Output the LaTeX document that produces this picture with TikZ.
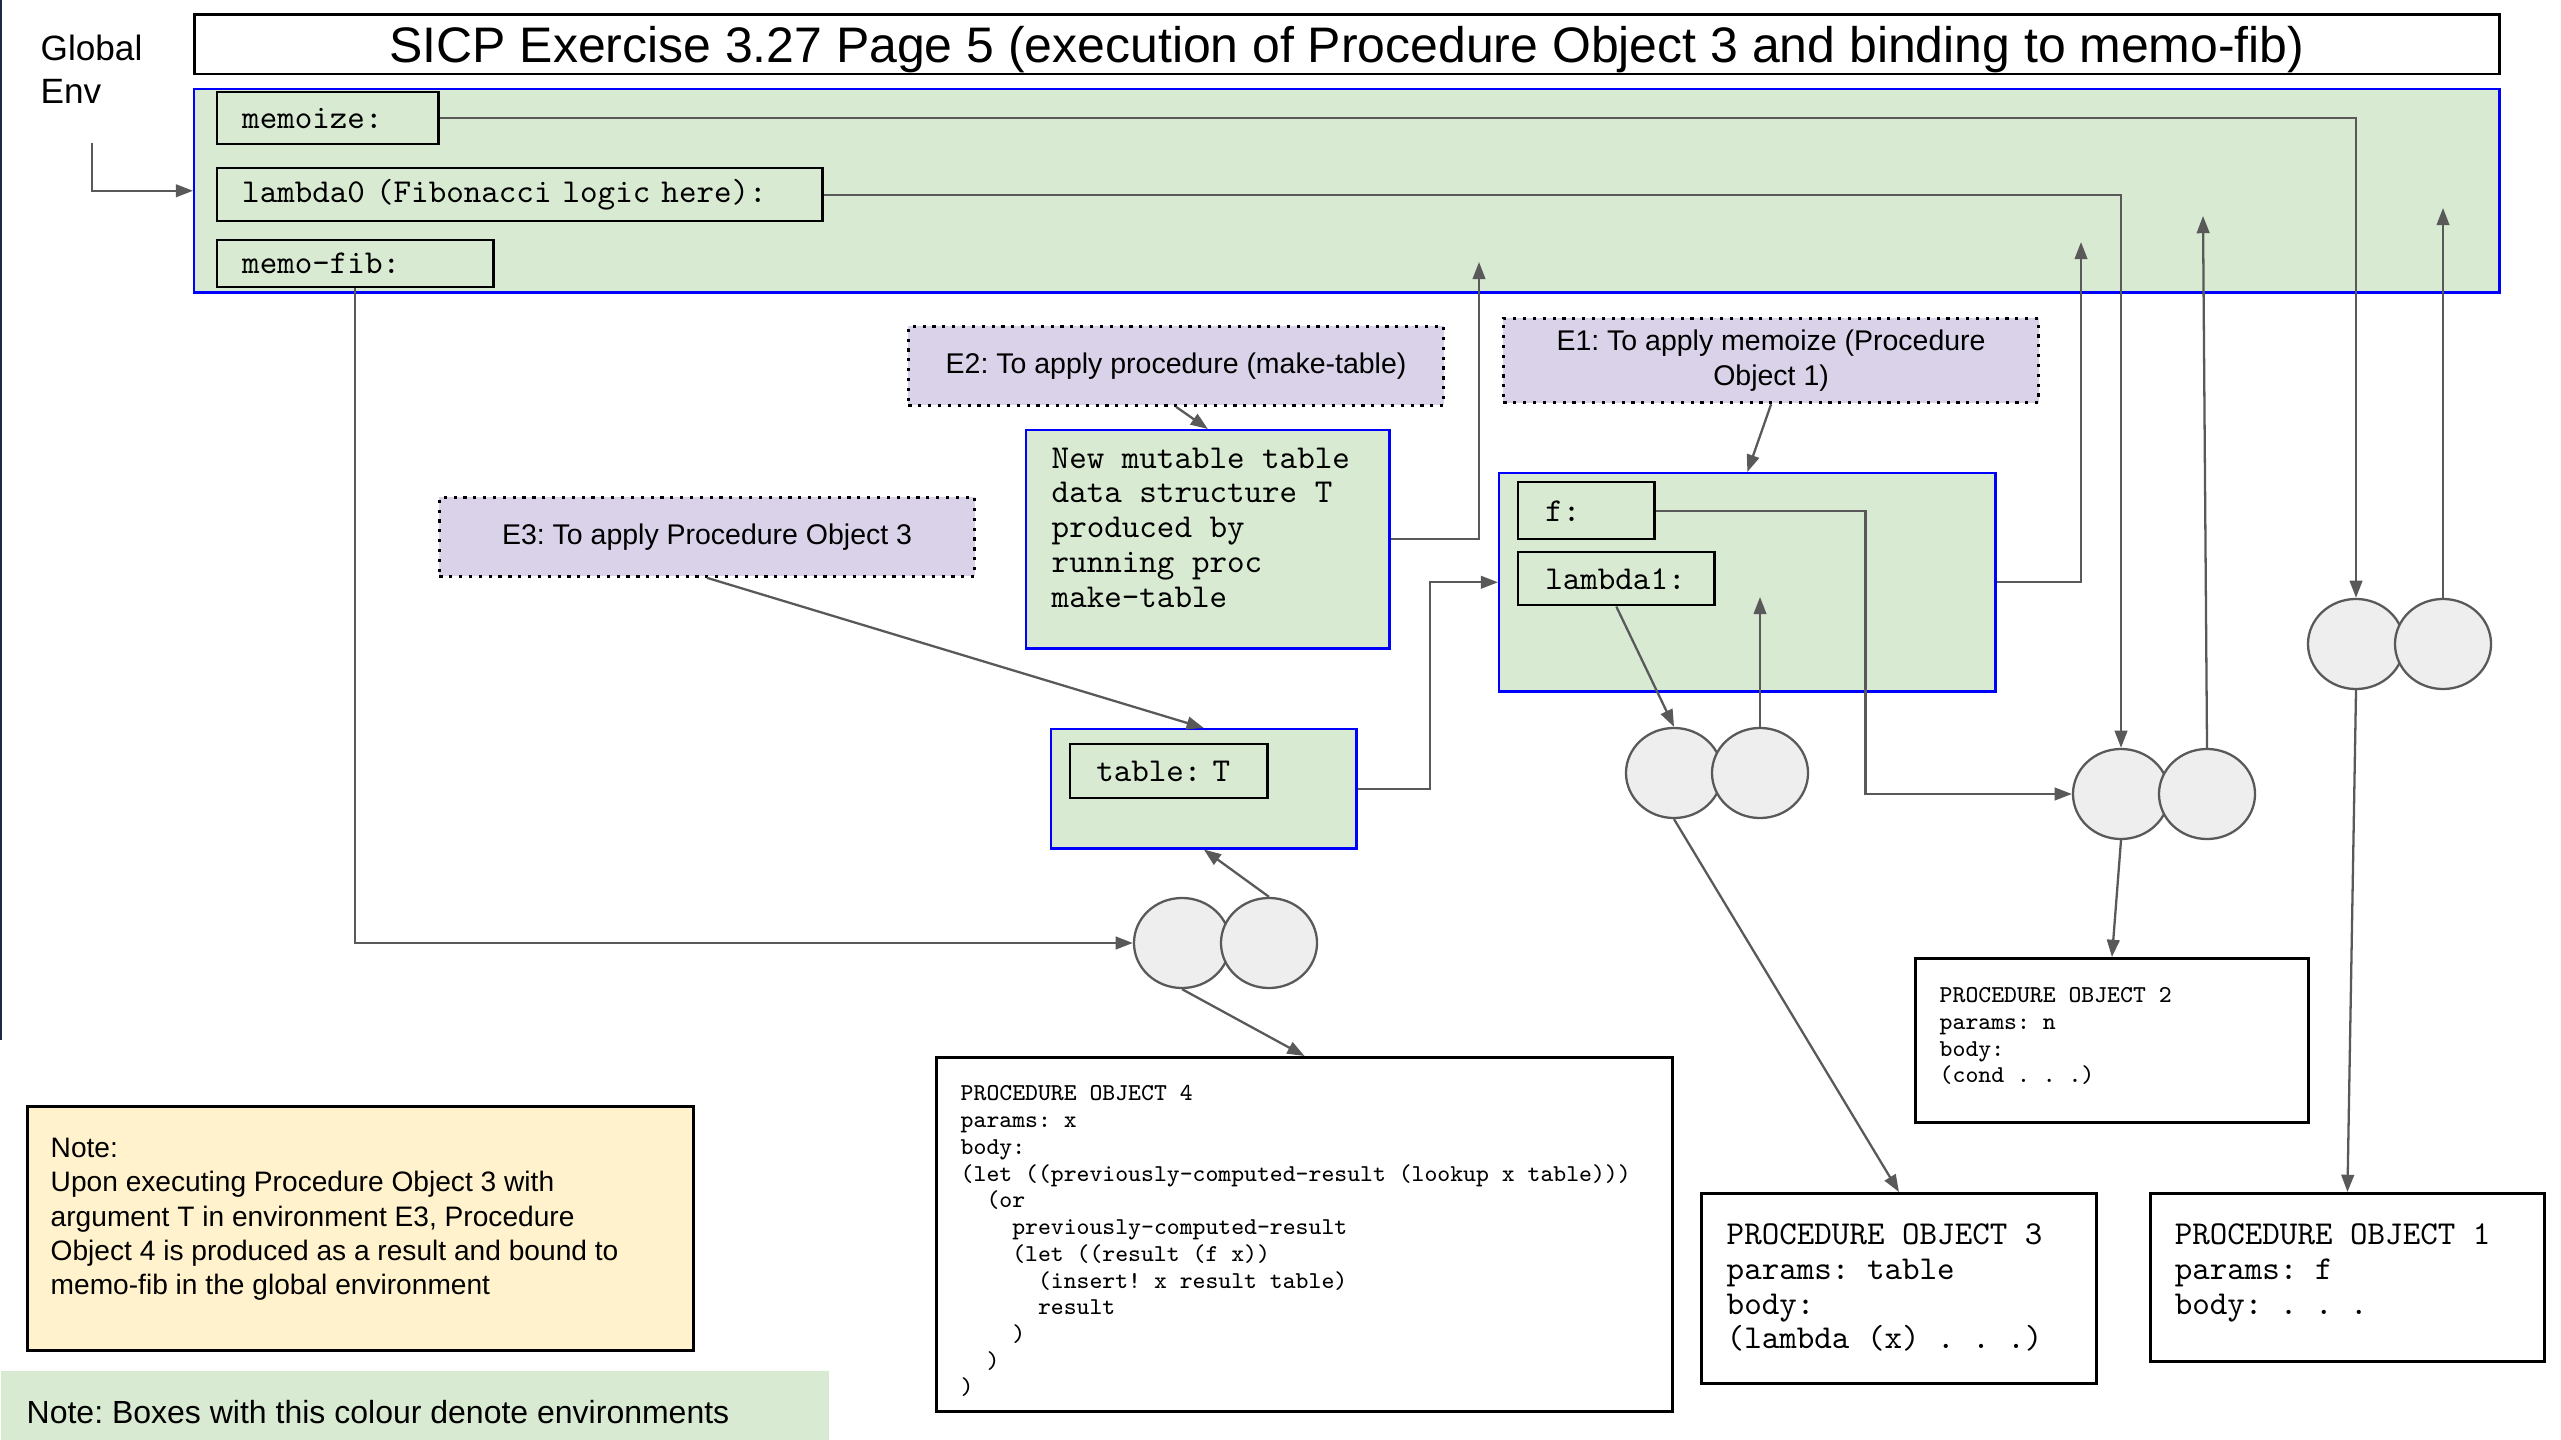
\documentclass[tikz,border=0pt]{standalone}
\usepackage{fontspec}
\setmainfont{Liberation Sans}
\usetikzlibrary{shapes.geometric, arrows.meta, positioning}
\usepackage{xcolor}
\definecolor{envgreen}{RGB}{217, 234, 211}
\definecolor{envblue}{RGB}{0, 0, 255}
\definecolor{labelpurple}{RGB}{217, 210, 233}
\definecolor{noteyellow}{RGB}{255, 242, 204}
\definecolor{cellgray}{RGB}{238, 238, 238}
\definecolor{linegray}{RGB}{89, 89, 89}
\definecolor{edgenavy}{RGB}{28, 42, 69}

\newcommand\titlefont{\fontsize{14.2}{16}\selectfont}
\newcommand\labelfont{\fontsize{8.1}{9.8}\selectfont}
\newcommand\monobig{\fontsize{9.5}{9.9}\selectfont\ttfamily}
\newcommand\monosmall{\fontsize{6.9}{7.6}\selectfont\ttfamily}
\newcommand\codeind[1]{\hspace*{#1\fontcharwd\font`x}}
\frenchspacing

\begin{document}
\begin{tikzpicture}[
    x=0.01cm, y=-0.01cm,
    >={Triangle[length=4.9pt, width=3.6pt]},
    % Box styles
    titlebox/.style={rectangle, draw=black, line width=0.75pt, minimum width=23.04cm, minimum height=0.58cm, anchor=north west, text depth=0pt, font=\titlefont},
    envbox/.style={rectangle, draw=envblue, line width=0.7pt, fill=envgreen, anchor=north west, inner sep=0pt},
    binding/.style={rectangle, draw=black, line width=0.7pt, fill=envgreen, anchor=north west, inner xsep=0.25cm, inner ysep=0pt, align=left, font=\monobig},
    envlabel/.style={rectangle, draw=black, line width=0.8pt, dash pattern=on 0.9pt off 1.9pt, fill=labelpurple, anchor=north west, minimum width=5.35cm, align=center, font=\labelfont},
    procbox/.style={rectangle, draw=black, line width=0.75pt, fill=white, anchor=north west, inner sep=0pt},
    codetext/.style={anchor=north west, inner sep=0pt, align=left},
    conscell/.style={ellipse, draw=linegray, line width=0.65pt, fill=cellgray, minimum width=0.96cm, minimum height=0.9cm, inner sep=0pt},
    % Arrow styles
    arrow/.style={->, draw=linegray, line width=0.65pt},
]
\useasboundingbox (0,0) rectangle (2561,1440);

% Page edge
\draw[edgenavy, line width=0.5pt] (1,0) -- (1,1040);

% Title and global environment
\node[titlebox] (title) at (193,13) {SICP Exercise 3.27 Page 5 (execution of Procedure Object 3 and binding to memo-fib)};
\node[codetext, font=\fontsize{10}{12.2}\selectfont] (globallabel) at (40,34) {Global\\Env};
\node[envbox, minimum width=23.04cm, minimum height=2.03cm] (globalenv) at (193,88) {};
\node[binding, text width=1.71cm, minimum height=0.52cm] (memoize) at (216,91) {memoize:};
\node[binding, text width=5.55cm, minimum height=0.53cm] (lambdazero) at (216,167) {lambda0 (Fibonacci logic here):};
\node[binding, text width=2.26cm, minimum height=0.47cm] (memofib) at (216,239) {memo-fib:};

% Environment labels
\node[envlabel, minimum height=0.79cm] (etwo) at (907,325) {E2: To apply procedure (make-table)};
\node[envlabel, minimum height=0.79cm] (ethree) at (438,496) {E3: To apply Procedure Object 3};
\node[envlabel, minimum height=0.77cm] (eone) at (1502,317) {E1: To apply memoize (Procedure\\Object 1)};

% Table made by make-table
\node[envbox, minimum width=3.63cm, minimum height=2.18cm] (newtable) at (1025,429) {};
\node[codetext, font=\monobig, below right=0.18cm and 0.26cm of newtable.north west] (newtabletext) {New mutable table\\data structure T\\produced by\\running proc\\make-table};

% E1 frame
\node[envbox, minimum width=4.96cm, minimum height=2.18cm] (eoneframe) at (1498,472) {};
\node[binding, inner xsep=0.27cm, text width=0.82cm, minimum height=0.57cm] (fbind) at (1517,481) {f:};
\node[binding, inner xsep=0.27cm, text width=1.42cm, minimum height=0.53cm] (lambdaone) at (1517,551) {lambda1:};

% E3 frame
\node[envbox, minimum width=3.05cm, minimum height=1.19cm] (ethreeframe) at (1050,728) {};
\node[binding, inner xsep=0.26cm, text width=1.45cm, minimum height=0.54cm] (tablebind) at (1069,743) {table: T};

% Procedure pairs
\node[conscell] (paironeleft) at (1674,773) {};
\node[conscell] (paironeright) at (1760,773) {};
\node[conscell] (pairtwoleft) at (2121,794) {};
\node[conscell] (pairtworight) at (2207,794) {};
\node[conscell] (pairthreeleft) at (2356,644) {};
\node[conscell] (pairthreeright) at (2443,644) {};
\node[conscell] (pairfourleft) at (1182,943) {};
\node[conscell] (pairfourright) at (1269,943) {};

% Procedure objects
\node[procbox, minimum width=7.36cm, minimum height=3.54cm] (procfour) at (935,1056) {};
\node[codetext, font=\monosmall, below right=0.29cm and 0.25cm of procfour.north west] (procfourtext) {PROCEDURE OBJECT 4\\params: x\\body:\\(let ((previously-computed-result (lookup x table)))\\\codeind{2}(or\\\codeind{4}previously-computed-result\\\codeind{4}(let ((result (f x))\\\codeind{6}(insert! x result table)\\\codeind{6}result\\\codeind{4})\\\codeind{2})\\)};
\node[procbox, minimum width=3.93cm, minimum height=1.64cm] (proctwo) at (1914,957) {};
\node[codetext, font=\monosmall, below right=0.30cm and 0.25cm of proctwo.north west] (proctwotext) {PROCEDURE OBJECT 2\\params: n\\body:\\(cond . . .)};
\node[procbox, minimum width=3.95cm, minimum height=1.90cm] (procthree) at (1700,1192) {};
\node[codetext, font=\monobig, below right=0.31cm and 0.26cm of procthree.north west] (procthreetext) {PROCEDURE OBJECT 3\\params: table\\body:\\(lambda (x) . . .)};
\node[procbox, minimum width=3.94cm, minimum height=1.68cm] (procone) at (2149,1192) {};
\node[codetext, font=\monobig, below right=0.31cm and 0.25cm of procone.north west] (proconetext) {PROCEDURE OBJECT 1\\params: f\\body: . . .};

% Notes
\node[procbox, fill=noteyellow, minimum width=6.66cm, minimum height=2.44cm] (note) at (26,1105) {};
\node[codetext, font=\fontsize{8}{9.8}\selectfont, below right=0.32cm and 0.24cm of note.north west] (notetext) {Note:\\Upon executing Procedure Object 3 with\\argument T in environment E3, Procedure\\Object 4 is produced as a result and bound to\\memo-fib in the global environment};
\node[rectangle, fill=envgreen, anchor=north west, inner sep=0pt, minimum width=8.28cm, minimum height=0.70cm] (legend) at (0,1370) {};
\node[anchor=base west, inner sep=0pt, font=\fontsize{9.1}{11}\selectfont] (legendtext) at (26,1423) {Note: Boxes with this colour denote environments};

% Free ends of pointers
\coordinate (globalstart) at (92,143);
\coordinate (tabletip) at (1479,262);
\coordinate (eonetip) at (2081,242);
\coordinate (pairtwotip) at (2203,216);
\coordinate (pairthreetip) at (2443,208);
\coordinate (paironetip) at (1760,597);

% Pointers
\draw[arrow] (globalstart) |- (globalenv.west);
\draw[arrow] (memoize.east) -| (pairthreeleft.north);
\draw[arrow] (lambdazero.east) -| (pairtwoleft.north);
\draw[arrow] (memofib.south) |- (pairfourleft.west);
\draw[arrow] (newtable.east) -| (tabletip);
\draw[arrow] (eoneframe.east) -| (eonetip);
\draw[arrow] (pairtworight.north) -- (pairtwotip);
\draw[arrow] (pairthreeright.north) -- (pairthreetip);
\draw[arrow] (etwo.south) -- (newtable.north);
\draw[arrow] (ethree.south) -- (ethreeframe.north);
\draw[arrow] (eone.south) -- (eoneframe.north);
\draw[arrow] (ethreeframe.east) -- ++(72,0) |- (eoneframe.west);
\draw[arrow] (fbind.east) -- ++(210,0) |- (pairtwoleft.west);
\draw[arrow] (lambdaone.south) -- (paironeleft.north);
\draw[arrow] (paironeright.north) -- (paironetip);
\draw[arrow] (pairfourright.north) -- (ethreeframe.south);
\draw[arrow] (pairfourleft.south) -- (procfour.north);
\draw[arrow] (paironeleft.south) -- (procthree.north);
\draw[arrow] (pairtwoleft.south) -- (proctwo.north);
\draw[arrow] (pairthreeleft.south) -- (procone.north);

\end{tikzpicture}
\end{document}
